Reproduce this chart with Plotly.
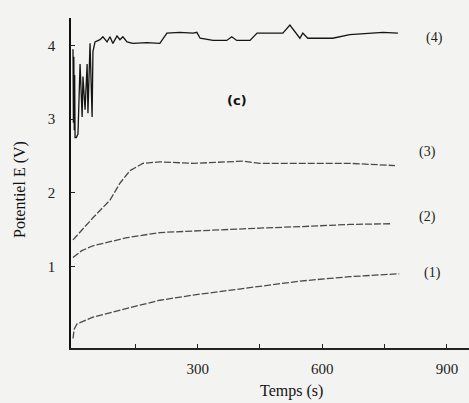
import plotly.graph_objects as go

# ---- data (time in s, potential in V) ----
t1 = [0, 3, 10, 48, 130, 209, 289, 370, 450, 546, 666, 785]
v1 = [0.02, 0.15, 0.22, 0.31, 0.43, 0.54, 0.61, 0.67, 0.73, 0.80, 0.86, 0.90]

t2 = [0, 20, 48, 90, 130, 209, 289, 370, 450, 546, 666, 767]
v2 = [1.12, 1.21, 1.28, 1.34, 1.39, 1.46, 1.48, 1.51, 1.52, 1.54, 1.57, 1.58]

t3 = [0, 48, 89, 113, 137, 168, 209, 289, 370, 409, 450, 546, 666, 775]
v3 = [1.36, 1.66, 1.90, 2.13, 2.30, 2.40, 2.42, 2.40, 2.42, 2.43, 2.40, 2.40, 2.40, 2.37]

t4 = [0, 1, 2, 3, 4, 5, 8, 12, 17, 22, 24, 29, 34, 36, 41, 46, 48, 53, 65, 72,
      82, 89, 96, 106, 113, 120, 130, 144, 178, 209, 226, 257, 289, 298, 306,
      337, 370, 382, 394, 426, 443, 450, 505, 522, 539, 546, 553, 565, 625,
      666, 746, 782]
v4 = [3.95, 2.95, 3.85, 2.85, 3.60, 2.75, 2.75, 2.80, 3.75, 3.03, 3.58, 3.13,
      3.75, 3.08, 4.03, 3.03, 3.92, 4.05, 4.08, 4.12, 4.05, 4.12, 4.03, 4.13,
      4.08, 4.12, 4.05, 4.03, 4.04, 4.03, 4.17, 4.18, 4.17, 4.18, 4.10, 4.07,
      4.07, 4.12, 4.07, 4.07, 4.17, 4.17, 4.17, 4.28, 4.15, 4.10, 4.17, 4.10,
      4.10, 4.15, 4.18, 4.17]

curve_labels = ["(1)", "(2)", "(3)", "(4)"]
x_tickvals = [150, 300, 450, 600, 750, 900]
x_ticktext = ["", "300", "", "600", "", "900"]
y_tickvals = [1, 2, 3, 4]
y_ticktext = ["1", "2", "3", "4"]

serif = "Liberation Serif, Times New Roman, serif"

fig = go.Figure()
dashed = dict(color="#4a4a4a", width=1.3, dash="7px,2px")
fig.add_trace(go.Scatter(x=t1, y=v1, mode="lines", line=dashed, showlegend=False))
fig.add_trace(go.Scatter(x=t2, y=v2, mode="lines", line=dashed, showlegend=False))
fig.add_trace(go.Scatter(x=t3, y=v3, mode="lines", line=dashed, showlegend=False))
fig.add_trace(go.Scatter(x=t4, y=v4, mode="lines",
                         line=dict(color="#151515", width=1.3), showlegend=False))

label_pos = [(866, 0.91), (852, 1.67), (852, 2.55), (871, 4.10)]
annotations = []
for txt, (ax_, ay_) in zip(curve_labels, label_pos):
    annotations.append(dict(x=ax_, y=ay_, xref="x", yref="y", text=txt,
                            showarrow=False, font=dict(family=serif, size=14, color="#222")))
annotations.append(dict(x=395, y=3.26, xref="x", yref="y", text="<b>(c)</b>",
                        showarrow=False, font=dict(family="DejaVu Sans, sans-serif", size=13, color="#111")))
annotations.append(dict(x=0.555, y=-0.13, xref="paper", yref="paper", text="Temps (s)",
                        showarrow=False, yanchor="middle",
                        font=dict(family=serif, size=16, color="#111")))
annotations.append(dict(x=-0.128, y=0.479, xref="paper", yref="paper", text="Potentiel E (V)",
                        showarrow=False, textangle=-90, xanchor="center", yanchor="middle",
                        font=dict(family=serif, size=16, color="#111")))

fig.update_layout(
    width=469, height=403,
    margin=dict(l=71, r=0, t=18, b=55),
    paper_bgcolor="#f3f3f1", plot_bgcolor="#f3f3f1",
    annotations=annotations,
    xaxis=dict(range=[-4.8, 953], showgrid=False, zeroline=False,
               showline=True, linecolor="#222", linewidth=1.5,
               tickmode="array", tickvals=x_tickvals, ticktext=x_ticktext,
               ticks="inside", ticklen=4, tickcolor="#222",
               tickfont=dict(family=serif, size=15, color="#222"),
               ticklabelstandoff=6),
    yaxis=dict(range=[-0.109, 4.375], showgrid=False, zeroline=False,
               showline=True, linecolor="#111", linewidth=1.6,
               tickmode="array", tickvals=y_tickvals, ticktext=y_ticktext,
               ticks="inside", ticklen=4, tickcolor="#222",
               tickfont=dict(family=serif, size=15, color="#222"),
               ticklabelstandoff=11),
)

fig.write_html("out.html", config={"displayModeBar": False},
               post_script="document.body.style.margin='0px';document.body.style.overflow='hidden';")
